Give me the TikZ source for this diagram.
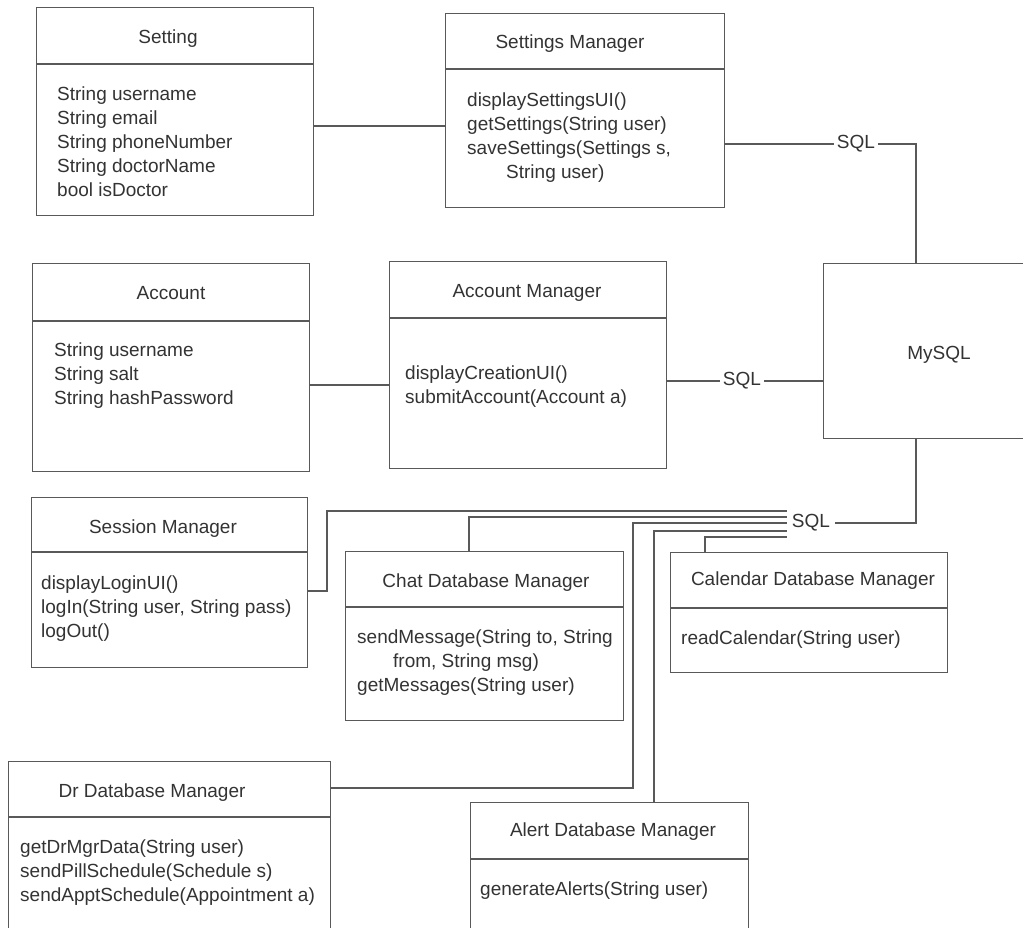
\documentclass[tikz,border=0pt]{standalone}
\usepackage{fontspec}
\setmainfont{Liberation Sans}
\definecolor{txt}{HTML}{333333}
\definecolor{ln}{HTML}{595959}
\newcommand\umlbox[6]{%
  \node[box, minimum width={#4pt-#2pt}, minimum height={#5pt-#3pt}] (#1) at (#2,#3) {};
  \draw[conn] (#1.west |- 0,#6) -- (#1.east |- 0,#6);}
\begin{document}
\begin{tikzpicture}[x=1pt,y=-1pt,
  box/.style={draw=ln, line width=1.4pt, rectangle, inner sep=0pt, anchor=north west},
  conn/.style={draw=ln, line width=1.4pt},
  ttl/.style={text=txt, font=\fontsize{19}{24}\selectfont, inner sep=0pt, anchor=base},
  body/.style={text=txt, font=\fontsize{19}{24}\selectfont, inner sep=0pt, anchor=base west, align=left},
  sqllbl/.style={text=txt, font=\fontsize{19}{24}\selectfont, inner xsep=3pt, inner ysep=0pt}]
\clip (0,0) rectangle (1023,927);
\fill[white] (0,0) rectangle (1023,927);
% boxes
\umlbox{setting}{36}{7}{313}{215}{64}
\umlbox{smgr}{445}{13}{724}{207}{69}
\umlbox{account}{32}{263}{309}{471}{321}
\umlbox{amgr}{389}{261}{666}{468}{318}
\node[box, minimum width=207pt, minimum height=175pt] (mysql) at (823,263) {};
\umlbox{session}{31}{497}{307}{667}{552}
\umlbox{chat}{345}{551}{623}{720}{607}
\umlbox{cal}{670}{552}{947}{672}{608}
\umlbox{dr}{8}{761}{330}{940}{817}
\umlbox{alert}{470}{802}{748}{940}{859}
% titles
\node[ttl] (settingT) at (168,43) {Setting};
\node[ttl] (smgrT) at (570,48) {Settings Manager};
\node[ttl] (accountT) at (171,299) {Account};
\node[ttl] (amgrT) at (527,297) {Account Manager};
\node[text=txt, font=\fontsize{19}{24}\selectfont, inner sep=0pt] (mysqlT) at (939,355) {MySQL};
\node[ttl] (sessionT) at (163,533) {Session Manager};
\node[ttl] (chatT) at (486,587) {Chat Database Manager};
\node[ttl] (calT) at (813,585) {Calendar Database Manager};
\node[ttl] (drT) at (152,797) {Dr Database Manager};
\node[ttl] (alertT) at (613,836) {Alert Database Manager};
% bodies (anchor = baseline of last line)
\node[body] (settingB) at (57,196) {String username\\String email\\String phoneNumber\\String doctorName\\bool isDoctor};
\node[body] (smgrB) at (467,178) {displaySettingsUI()\\getSettings(String user)\\saveSettings(Settings s,\\\hspace*{39pt}String user)};
\node[body] (accountB) at (54,404) {String username\\String salt\\String hashPassword};
\node[body] (amgrB) at (405,403) {displayCreationUI()\\submitAccount(Account a)};
\node[body] (sessionB) at (41,637) {displayLoginUI()\\logIn(String user, String pass)\\logOut()};
\node[body] (chatB) at (357,691) {sendMessage(String to, String\\\hspace*{36pt}from, String msg)\\getMessages(String user)};
\node[body] (calB) at (681,644) {readCalendar(String user)};
\node[body] (drB) at (20,901) {getDrMgrData(String user)\\sendPillSchedule(Schedule s)\\sendApptSchedule(Appointment a)};
\node[body] (alertB) at (480,895) {generateAlerts(String user)};
% SQL labels
\node[sqllbl] (sql1) at (856,144) {SQL};
\node[sqllbl] (sql2) at (742,381) {SQL};
\node[sqllbl, inner xsep=5pt] (sql3) at (811,523) {SQL};
% connectors
\draw[conn] (setting.east |- 0,126) -- (smgr.west |- 0,126);
\draw[conn] (smgr.east |- sql1) -- (sql1.west);
\draw[conn] (sql1.east) -| (mysql.north -| 916,0);
\draw[conn] (account.east |- 0,385) -- (amgr.west |- 0,385);
\draw[conn] (amgr.east |- sql2) -- (sql2.west);
\draw[conn] (sql2.east) -- (mysql.west |- sql2);
\draw[conn] (session.east |- 0,591) -| (327,511) -- (sql3.west |- 0,511);
\draw[conn] (chat.north -| 469,0) |- (sql3.west |- 0,517);
\draw[conn] (dr.east |- 0,788) -| (633,523) -- (sql3.west);
\draw[conn] (alert.north -| 654,0) |- (sql3.west |- 0,531);
\draw[conn] (cal.north -| 705,0) |- (sql3.west |- 0,537);
\draw[conn] (sql3.east) -| (mysql.south -| 916,0);
\end{tikzpicture}
\end{document}
